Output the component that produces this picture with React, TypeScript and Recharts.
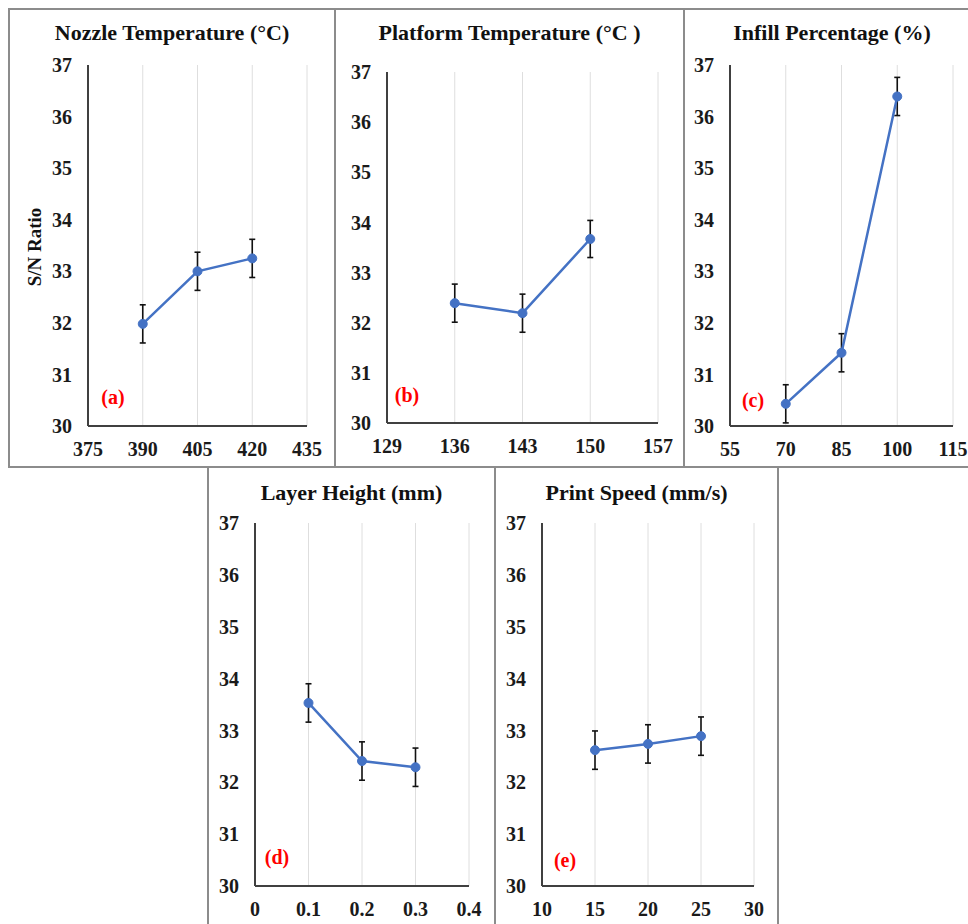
import React from 'react';
import { LineChart, Line, XAxis, YAxis, CartesianGrid, ErrorBar } from 'recharts';

const yTicks = [30, 31, 32, 33, 34, 35, 36, 37];

const nozzleTicks = [375, 390, 405, 420, 435];
const nozzleX = [390, 405, 420];
const nozzleSN = [31.98, 33.0, 33.25];
const nozzleErr = [0.37, 0.37, 0.37];

const platformTicks = [129, 136, 143, 150, 157];
const platformX = [136, 143, 150];
const platformSN = [32.39, 32.19, 33.67];
const platformErr = [0.38, 0.38, 0.37];

const infillTicks = [55, 70, 85, 100, 115];
const infillX = [70, 85, 100];
const infillSN = [30.43, 31.42, 36.39];
const infillErr = [0.37, 0.37, 0.37];

const layerTicks = [0, 0.1, 0.2, 0.3, 0.4];
const layerX = [0.1, 0.2, 0.3];
const layerSN = [33.53, 32.41, 32.29];
const layerErr = [0.37, 0.37, 0.37];

const speedTicks = [10, 15, 20, 25, 30];
const speedX = [15, 20, 25];
const speedSN = [32.62, 32.74, 32.89];
const speedErr = [0.37, 0.37, 0.37];

const FONT = '"Liberation Serif", "Times New Roman", serif';
const BLUE = '#4472C4';
const YW = 40;
const XH = 30;

type Box = { l: number; t: number; r: number; b: number };
type Plot = { x0: number; x1: number; y0: number; y1: number };

type PanelProps = {
  title: string;
  tag: string;
  ticks: number[];
  xs: number[];
  sn: number[];
  err: number[];
  box: Box;
  plot: Plot;
  tagPos: { x: number; y: number };
  titleY: number;
  showYLabel?: boolean;
};

function Panel(p: PanelProps) {
  const { box, plot } = p;
  const w = box.r - box.l;
  const h = box.b - box.t;
  const data = p.xs.map((x, i) => ({ x, sn: p.sn[i], err: p.err[i] }));
  const tickStyle = { fontSize: 20, fontWeight: 'bold', fill: '#1a1a1a', fontFamily: FONT };
  return (
    <>
      <div style={{ position: 'absolute', left: box.l, top: box.t, width: w, height: h }}>
        <LineChart
          width={w}
          height={h}
          data={data}
          margin={{
            top: plot.y0 - box.t,
            right: box.r - plot.x1,
            left: plot.x0 - box.l - YW,
            bottom: box.b - plot.y1 - XH,
          }}
        >
          <CartesianGrid horizontal={false} stroke="#dedede" strokeWidth={1} />
          <XAxis
            dataKey="x"
            type="number"
            domain={[p.ticks[0], p.ticks[p.ticks.length - 1]]}
            ticks={p.ticks}
            interval={0}
            height={XH}
            tickLine={false}
            tickMargin={10}
            axisLine={{ stroke: '#404040', strokeWidth: 2 }}
            tick={tickStyle}
          />
          <YAxis
            type="number"
            domain={[30, 37]}
            ticks={yTicks}
            interval={0}
            width={YW}
            tickLine={false}
            tickMargin={10}
            axisLine={{ stroke: '#404040', strokeWidth: 2 }}
            tick={tickStyle}
            allowDataOverflow
          />
          <Line
            dataKey="sn"
            stroke={BLUE}
            strokeWidth={2.5}
            dot={{ r: 4.5, fill: BLUE, stroke: BLUE, strokeWidth: 1 }}
            isAnimationActive={false}
          >
            <ErrorBar dataKey="err" direction="y" width={3} stroke="#111" strokeWidth={1.6} isAnimationActive={false} />
          </Line>
        </LineChart>
        <div
          style={{
            position: 'absolute',
            left: 0,
            width: w,
            top: p.titleY - box.t - 13,
            lineHeight: '26px',
            textAlign: 'center',
            fontFamily: FONT,
            fontWeight: 'bold',
            fontSize: 22,
            color: '#111',
            whiteSpace: 'nowrap',
          }}
        >
          {p.title}
        </div>
        <div
          style={{
            position: 'absolute',
            left: p.tagPos.x - box.l,
            top: p.tagPos.y - box.t,
            transform: 'translate(-50%, -50%)',
            fontFamily: FONT,
            fontWeight: 'bold',
            fontSize: 20,
            color: '#ff0000',
            whiteSpace: 'nowrap',
            lineHeight: '24px',
          }}
        >
          {p.tag}
        </div>
        {p.showYLabel && (
          <div
            style={{
              position: 'absolute',
              left: 35 - box.l,
              top: 247 - box.t,
              transform: 'translate(-50%, -50%) rotate(-90deg)',
              fontFamily: FONT,
              fontWeight: 'bold',
              fontSize: 19,
              color: '#111',
              whiteSpace: 'nowrap',
              lineHeight: '22px',
            }}
          >
            S/N Ratio
          </div>
        )}
      </div>
      <div
        style={{
          position: 'absolute',
          left: box.l - 1,
          top: box.t - 1,
          width: w + 2,
          height: h + 2,
          border: '2px solid #8c8c8c',
          boxSizing: 'border-box',
          pointerEvents: 'none',
        }}
      />
    </>
  );
}

export default function App() {
  return (
    <div
      style={{
        position: 'absolute',
        left: 0,
        top: 0,
        width: 968,
        height: 924,
        overflow: 'hidden',
        background: '#fff',
      }}
    >
      <Panel
        title="Nozzle Temperature (°C)"
        tag="(a)"
        ticks={nozzleTicks}
        xs={nozzleX}
        sn={nozzleSN}
        err={nozzleErr}
        box={{ l: 9, t: 9, r: 335, b: 467 }}
        plot={{ x0: 88, x1: 307, y0: 65, y1: 426 }}
        tagPos={{ x: 113, y: 397 }}
        titleY={33}
        showYLabel
      />
      <Panel
        title="Platform Temperature (°C )"
        tag="(b)"
        ticks={platformTicks}
        xs={platformX}
        sn={platformSN}
        err={platformErr}
        box={{ l: 335, t: 9, r: 684, b: 467 }}
        plot={{ x0: 387, x1: 658, y0: 72, y1: 423 }}
        tagPos={{ x: 407, y: 395 }}
        titleY={33}
      />
      <Panel
        title="Infill Percentage (%)"
        tag="(c)"
        ticks={infillTicks}
        xs={infillX}
        sn={infillSN}
        err={infillErr}
        box={{ l: 684, t: 9, r: 980, b: 467 }}
        plot={{ x0: 730, x1: 953, y0: 65, y1: 426 }}
        tagPos={{ x: 753, y: 400 }}
        titleY={33}
      />
      <Panel
        title="Layer Height (mm)"
        tag="(d)"
        ticks={layerTicks}
        xs={layerX}
        sn={layerSN}
        err={layerErr}
        box={{ l: 208, t: 467, r: 495, b: 932 }}
        plot={{ x0: 255, x1: 469, y0: 523, y1: 886 }}
        tagPos={{ x: 277, y: 857 }}
        titleY={493}
      />
      <Panel
        title="Print Speed (mm/s)"
        tag="(e)"
        ticks={speedTicks}
        xs={speedX}
        sn={speedSN}
        err={speedErr}
        box={{ l: 495, t: 467, r: 778, b: 932 }}
        plot={{ x0: 542, x1: 754, y0: 523, y1: 886 }}
        tagPos={{ x: 565, y: 860 }}
        titleY={493}
      />
    </div>
  );
}
